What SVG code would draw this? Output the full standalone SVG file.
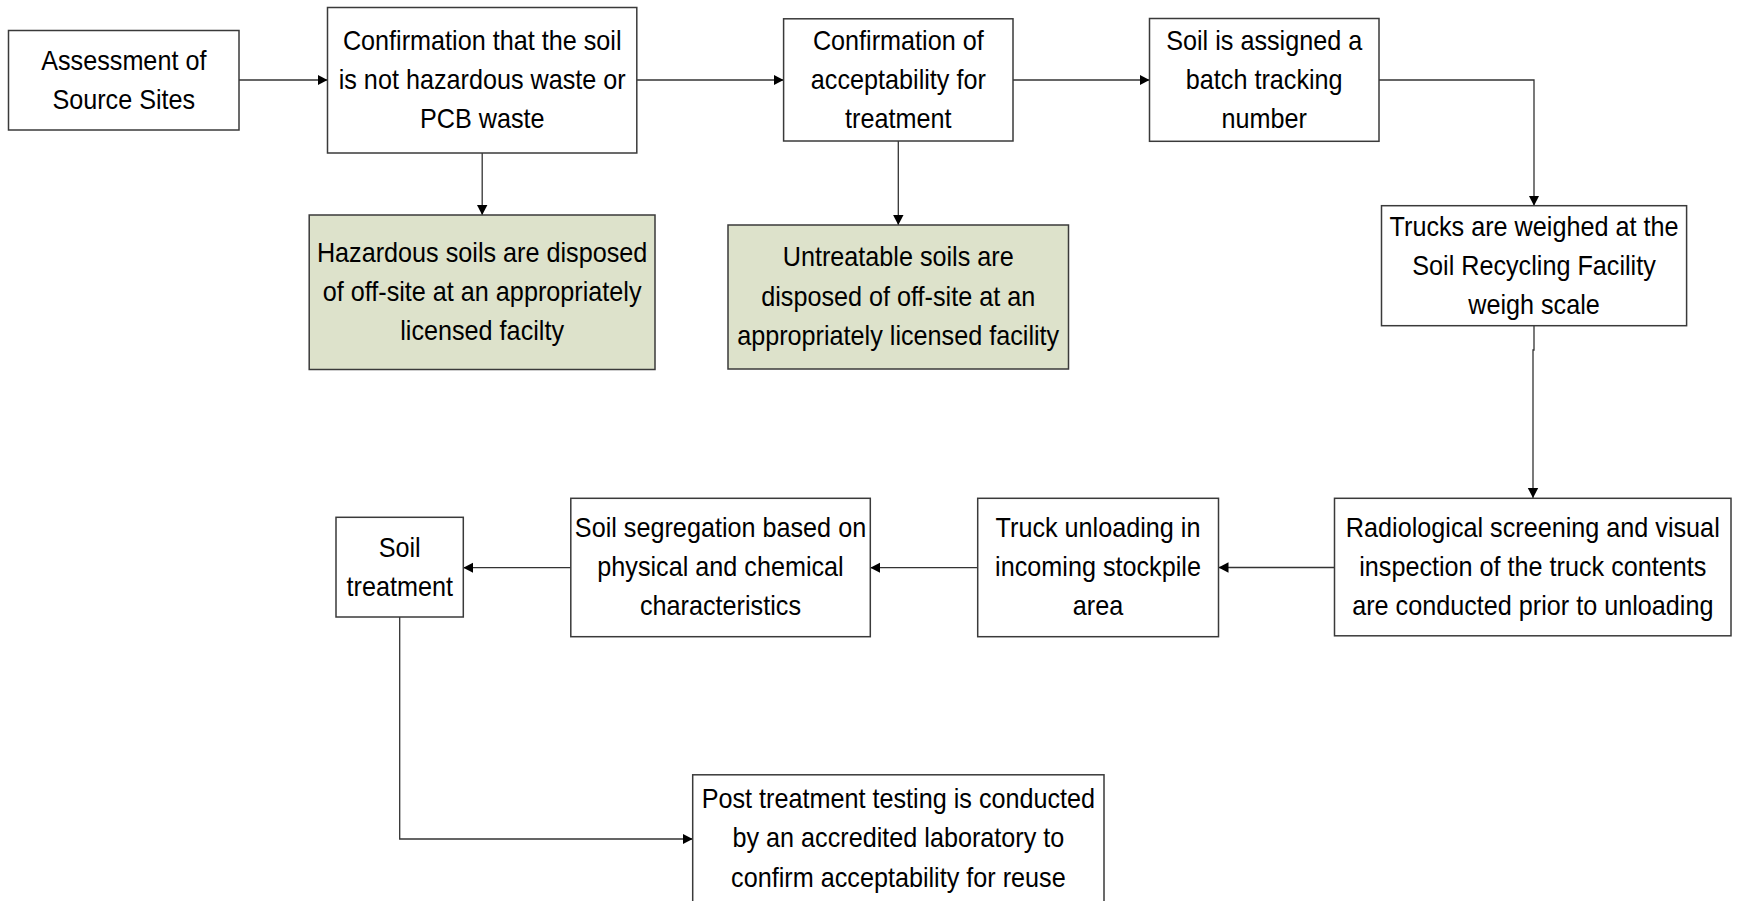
<svg xmlns="http://www.w3.org/2000/svg" width="1738" height="901" viewBox="0 0 1738 901">
<style>
.box{fill:#ffffff;stroke:#3a3a3a;stroke-width:1.5}
.grn{fill:#dde2cb;stroke:#3a3a3a;stroke-width:1.5}
.t{font-family:"Liberation Sans",Arial,sans-serif;font-size:28px;fill:#000;text-anchor:middle}
.c{fill:none;stroke:#333333;stroke-width:1.3;marker-end:url(#ah)}
</style>
<defs>
<marker id="ah" markerUnits="userSpaceOnUse" markerWidth="10" markerHeight="12" viewBox="0 0 10 12" refX="10" refY="6" orient="auto">
<path d="M0,0.8 L10,6 L0,11.2 Z" fill="#000"/>
</marker>
</defs>
<rect width="1738" height="901" fill="#ffffff"/>
<g id="connectors">
<path class="c" d="M239 80 H327.5"/>
<path class="c" d="M636.8 80 H783.6"/>
<path class="c" d="M1013 80 H1149.5"/>
<path class="c" d="M1379 80 H1534 V205.7"/>
<path class="c" d="M1534 325.7 V350 H1533 V498"/>
<path class="c" d="M1334.5 567.5 H1218.5"/>
<path class="c" d="M977.7 567.7 H870.3"/>
<path class="c" d="M570.8 567.7 H463.3"/>
<path class="c" d="M399.7 617 V839 H692.7"/>
<path class="c" d="M482.2 153 V215"/>
<path class="c" d="M898.3 141 V225"/>
</g>
<g id="n1">
<rect class="box" x="8.5" y="30.5" width="230.5" height="99.5"/>
<g transform="translate(123.8 0) scale(0.9 1)"><text class="t" y="70">Assessment of</text><text class="t" y="109">Source Sites</text></g>
</g>
<g id="n2">
<rect class="box" x="327.5" y="7.5" width="309.3" height="145.5"/>
<g transform="translate(482.2 0) scale(0.9 1)"><text class="t" y="50.5">Confirmation that the soil</text><text class="t" y="89.5">is not hazardous waste or</text><text class="t" y="128.5">PCB waste</text></g>
</g>
<g id="n3">
<rect class="box" x="783.6" y="18.8" width="229.4" height="122.2"/>
<g transform="translate(898.3 0) scale(0.9 1)"><text class="t" y="50.5">Confirmation of</text><text class="t" y="89.5">acceptability for</text><text class="t" y="128.5">treatment</text></g>
</g>
<g id="n4">
<rect class="box" x="1149.5" y="18.5" width="229.5" height="122.8"/>
<g transform="translate(1264.2 0) scale(0.9 1)"><text class="t" y="50.5">Soil is assigned a</text><text class="t" y="89.5">batch tracking</text><text class="t" y="128.5">number</text></g>
</g>
<g id="n5">
<rect class="box" x="1381.5" y="205.7" width="305.1" height="120"/>
<g transform="translate(1534 0) scale(0.9 1)"><text class="t" y="236">Trucks are weighed at the</text><text class="t" y="275">Soil Recycling Facility</text><text class="t" y="314">weigh scale</text></g>
</g>
<g id="n6">
<rect class="box" x="1334.5" y="498.3" width="396.5" height="137.5"/>
<g transform="translate(1532.8 0) scale(0.9 1)"><text class="t" y="537">Radiological screening and visual</text><text class="t" y="576">inspection of the truck contents</text><text class="t" y="615">are conducted prior to unloading</text></g>
</g>
<g id="n7">
<rect class="box" x="977.7" y="498.3" width="240.8" height="138.4"/>
<g transform="translate(1098 0) scale(0.9 1)"><text class="t" y="537">Truck unloading in</text><text class="t" y="576">incoming stockpile</text><text class="t" y="615">area</text></g>
</g>
<g id="n8">
<rect class="box" x="570.8" y="498.3" width="299.5" height="138.4"/>
<g transform="translate(720.5 0) scale(0.9 1)"><text class="t" y="537">Soil segregation based on</text><text class="t" y="576">physical and chemical</text><text class="t" y="615">characteristics</text></g>
</g>
<g id="n9">
<rect class="box" x="336" y="517.3" width="127.3" height="99.7"/>
<g transform="translate(399.7 0) scale(0.9 1)"><text class="t" y="557">Soil</text><text class="t" y="596">treatment</text></g>
</g>
<g id="n10">
<rect class="box" x="692.7" y="774.8" width="411.3" height="135"/>
<g transform="translate(898.4 0) scale(0.9 1)"><text class="t" y="808">Post treatment testing is conducted</text><text class="t" y="847.5">by an accredited laboratory to</text><text class="t" y="887">confirm acceptability for reuse</text></g>
</g>
<g id="n11">
<rect class="grn" x="309.2" y="215" width="345.8" height="154.5"/>
<g transform="translate(482.1 0) scale(0.9 1)"><text class="t" y="262">Hazardous soils are disposed</text><text class="t" y="301.5">of off-site at an appropriately</text><text class="t" y="340.5">licensed facilty</text></g>
</g>
<g id="n12">
<rect class="grn" x="728" y="225" width="340.5" height="144"/>
<g transform="translate(898.2 0) scale(0.9 1)"><text class="t" y="266.5">Untreatable soils are</text><text class="t" y="306">disposed of off-site at an</text><text class="t" y="345">appropriately licensed facility</text></g>
</g>
</svg>
